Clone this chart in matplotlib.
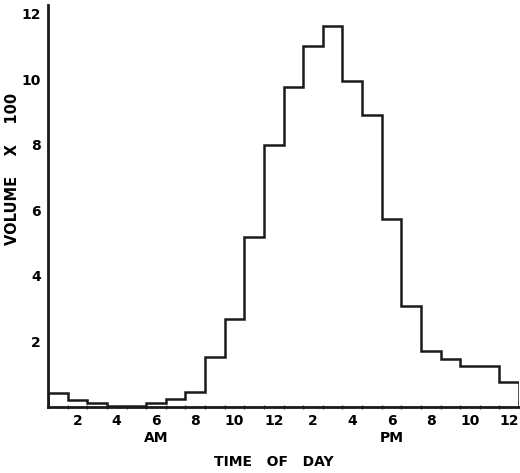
import numpy as np
import matplotlib
matplotlib.use("Agg")
import matplotlib.pyplot as plt

# hourly traffic volume (hundreds), hour 1 = 1 AM ... hour 24 = midnight
hours = list(range(1, 25))
volume = [0.44, 0.20, 0.13, 0.03, 0.03, 0.12, 0.23, 0.47, 1.52, 2.69, 5.19, 8.00,
          9.76, 11.02, 11.64, 9.94, 8.92, 5.74, 3.09, 1.72, 1.47, 1.26, 1.26, 0.77]
tick_hours = [2, 4, 6, 8, 10, 12, 14, 16, 18, 20, 22, 24]
tick_labels = ["2", "4", "6", "8", "10", "12", "2", "4", "6", "8", "10", "12"]
y_ticks = [2, 4, 6, 8, 10, 12]

plt.rcParams["font.family"] = ["DejaVu Sans"]
plt.rcParams["font.weight"] = "bold"

fig = plt.figure(figsize=(5.2, 4.73), dpi=100)
ax = fig.add_axes([0.0923, 0.1395, 0.906, 0.85])

edges = np.arange(len(hours) + 1) + 0.5
ax.stairs(volume, edges, baseline=0, color="#1a1a1a", linewidth=1.8)

ax.set_xlim(0.5, 24.5)
ax.set_ylim(0, 12.27)

for side in ["top", "right"]:
    ax.spines[side].set_visible(False)
for side in ["left", "bottom"]:
    ax.spines[side].set_linewidth(2.0)
    ax.spines[side].set_color("#1a1a1a")

ax.set_xticks(tick_hours)
ax.set_xticklabels(tick_labels, fontsize=10, fontweight="bold")
ax.set_xticks(edges[1:-1], minor=True)
ax.tick_params(axis="x", which="major", length=0, pad=5)
ax.tick_params(axis="x", which="minor", length=3, width=1, direction="inout", color="#444444")

ax.set_yticks(y_ticks)
ax.set_yticklabels([str(v) for v in y_ticks], fontsize=10, fontweight="bold")
ax.tick_params(axis="y", length=0, pad=5)

ax.text(6, -0.95, "AM", ha="center", va="center", fontsize=10, fontweight="bold")
ax.text(18, -0.95, "PM", ha="center", va="center", fontsize=10, fontweight="bold")
ax.text(12, -1.68, "TIME   OF   DAY", ha="center", va="center", fontsize=10, fontweight="bold")
fig.text(0.024, 0.643, "VOLUME    X    100", rotation=90, ha="center", va="center",
         fontsize=10.5, fontweight="bold")

fig.savefig("out.png", dpi=100, facecolor="white")
